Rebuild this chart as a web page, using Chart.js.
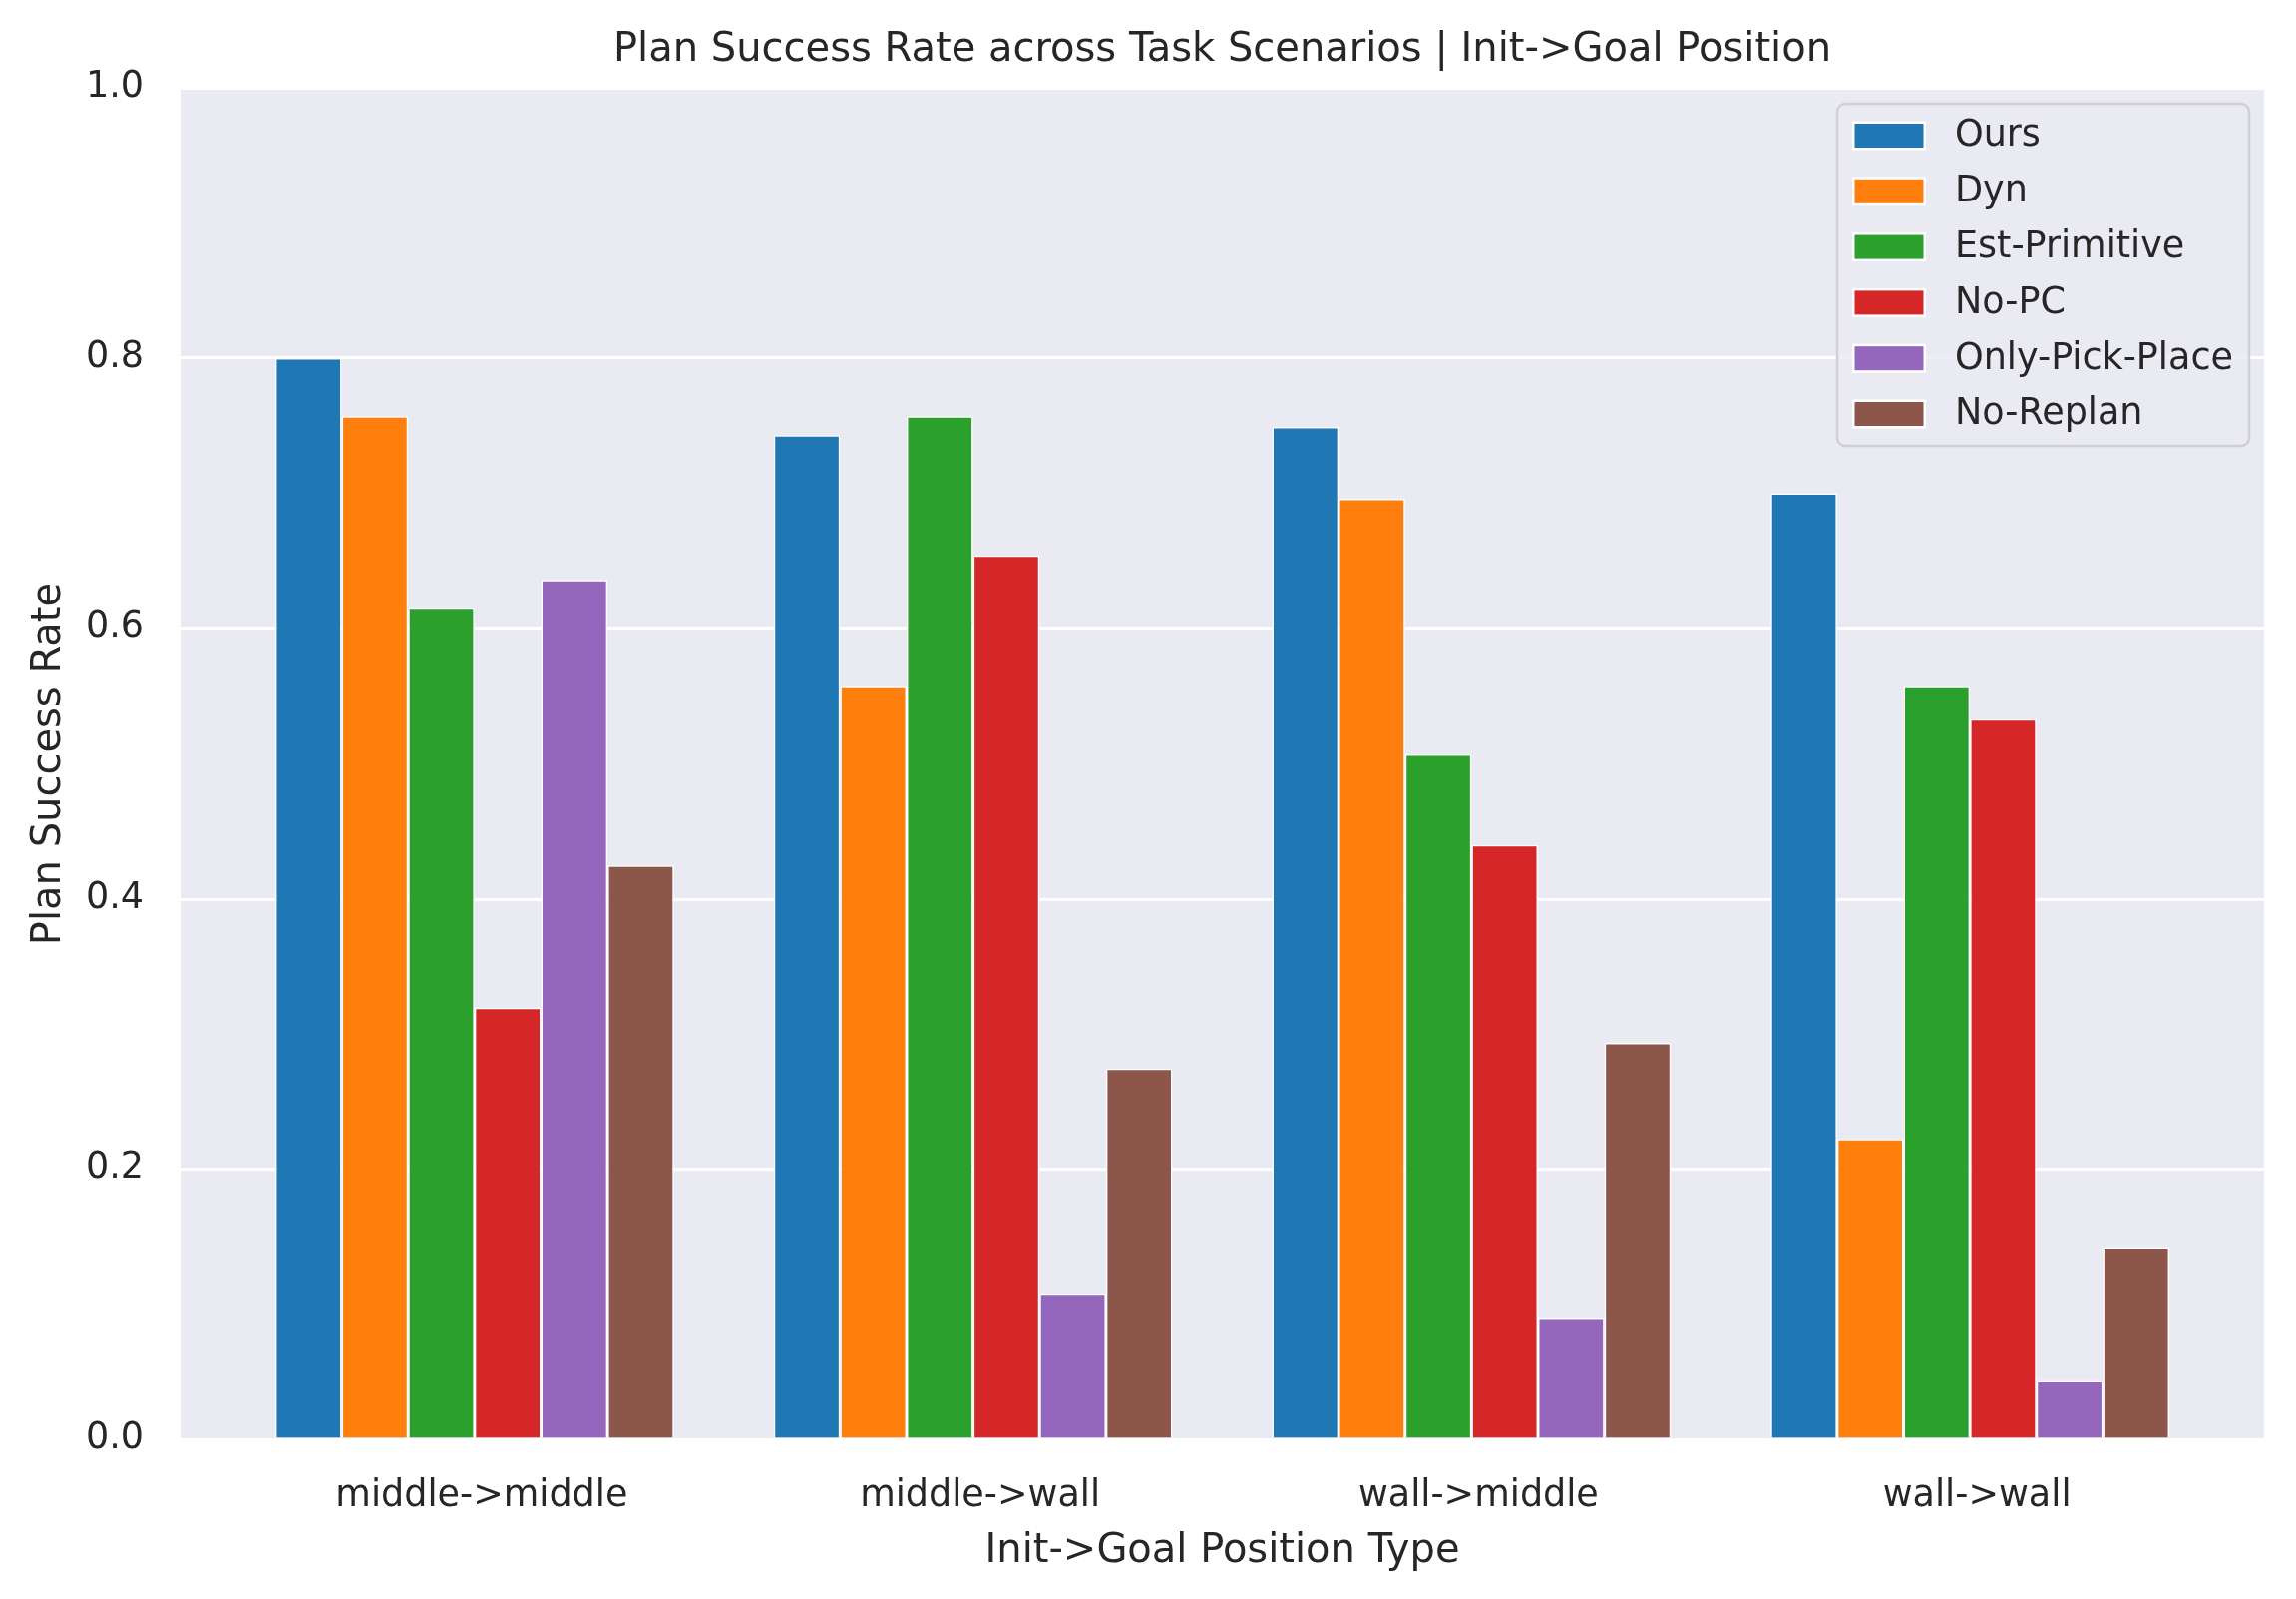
<!DOCTYPE html>
<html>
<head>
<meta charset="utf-8">
<script src="https://cdn.jsdelivr.net/npm/chart.js@4.4.1/dist/chart.umd.min.js"></script>
<style>
html,body{margin:0;padding:0;background:#fff;}
</style>
</head>
<body>
<canvas id="chart" width="2302" height="1603"></canvas>
<script>
const categories = ['middle->middle','middle->wall','wall->middle','wall->wall'];
const methods = ['Ours','Dyn','Est-Primitive','No-PC','Only-Pick-Place','No-Replan'];
const colors = ['#1f77b4','#ff7f0e','#2ca02c','#d62728','#9467bd','#8c564b'];

const ours = [0.800,0.743,0.749,0.700];
const dyn = [0.757,0.557,0.696,0.222];
const estPrimitive = [0.615,0.757,0.507,0.557];
const noPC = [0.319,0.654,0.440,0.533];
const onlyPickPlace = [0.636,0.108,0.090,0.044];
const noReplan = [0.425,0.274,0.293,0.142];

const yTicks = [0,0.2,0.4,0.6,0.8,1.0];

const seriesValues = [ours,dyn,estPrimitive,noPC,onlyPickPlace,noReplan];

const textColor = '#262626';
const font = 'DejaVu Sans';

const plotBg = {
  id:'plotBg',
  beforeDraw(chart){
    const {ctx,chartArea:a} = chart;
    ctx.save();
    ctx.fillStyle = '#eaeaf2';
    ctx.fillRect(a.left,a.top,a.right-a.left,a.bottom-a.top);
    ctx.restore();
  }
};

// legend drawn inside the plot, upper right
const legendBox = {
  id:'legendBox',
  afterDatasetsDraw(chart){
    const {ctx,chartArea:a} = chart;
    const w = 413, h = 343;
    const x = a.right - 15 - w, y = a.top + 16;
    ctx.save();
    ctx.beginPath();
    ctx.roundRect(x,y,w,h,8);
    ctx.fillStyle = 'rgba(234,234,242,0.8)';
    ctx.fill();
    ctx.lineWidth = 2.5;
    ctx.strokeStyle = '#d0d0d0';
    ctx.stroke();
    ctx.font = '36.5px "' + font + '"';
    ctx.textBaseline = 'middle';
    ctx.textAlign = 'left';
    chart.data.datasets.forEach((ds,i) => {
      const cy = y + 32 + i*55.8;
      ctx.fillStyle = '#ffffff';
      ctx.fillRect(x+15,cy-14.5,74,29);
      ctx.fillStyle = ds.backgroundColor;
      ctx.fillRect(x+17.5,cy-12,69,24);
      ctx.fillStyle = textColor;
      ctx.fillText(ds.label,x+118,cy+1);
    });
    ctx.restore();
  }
};

new Chart(document.getElementById('chart'),{
  type:'bar',
  data:{
    datasets: methods.map((m,i) => ({
      label:m,
      data: seriesValues[i].map((v,j) => ({x:j,y:v})),
      backgroundColor: colors[i],
      borderColor:'#ffffff',
      borderWidth:1.5,
      categoryPercentage:0.8,
      barPercentage:1.0
    }))
  },
  options:{
    responsive:false,
    devicePixelRatio:1,
    animation:false,
    layout:{padding:{left:0,right:32,top:0,bottom:0}},
    plugins:{
      legend:{display:false},
      tooltip:{enabled:false},
      title:{
        display:true,
        fullSize:false,
        text:'Plan Success Rate across Task Scenarios | Init->Goal Position',
        color:textColor,
        font:{family:font,size:40,weight:'normal'},
        padding:{top:27,bottom:13}
      }
    },
    scales:{
      x:{
        type:'linear',
        offset:false,
        min:-0.59,
        max:3.59,
        grid:{display:false,drawTicks:false},
        border:{display:false},
        afterBuildTicks: s => { s.ticks = categories.map((c,i) => ({value:i})); },
        afterFit: s => { s.height = 160; },
        ticks:{
          color:textColor,
          font:{family:font,size:36.5},
          padding:36,
          labelOffset:7,
          autoSkip:false,
          maxRotation:0,
          callback: v => categories[v]
        },
        title:{
          display:true,
          text:'Init->Goal Position Type',
          color:textColor,
          font:{family:font,size:40},
          padding:{top:0,bottom:23}
        }
      },
      y:{
        min:0,
        max:1,
        afterBuildTicks: s => { s.ticks = yTicks.map(v => ({value:v})); },
        afterFit: s => { s.width = 181; },
        grid:{color:'#ffffff',lineWidth:3,drawTicks:false},
        border:{display:false},
        ticks:{
          color:textColor,
          font:{family:font,size:36.5},
          padding:37,
          callback: v => v.toFixed(1)
        },
        title:{
          display:true,
          text:'Plan Success Rate',
          color:textColor,
          font:{family:font,size:40},
          padding:{top:26,bottom:0}
        }
      }
    }
  },
  plugins:[plotBg,legendBox]
});
</script>
</body>
</html>
